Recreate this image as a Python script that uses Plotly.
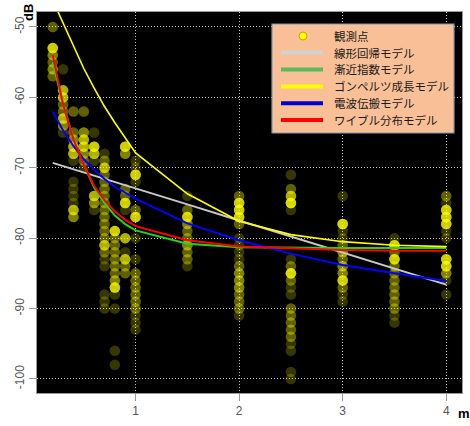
import plotly.graph_objects as go

# Distances of the measurement positions (m)
distance_m = [0.2, 0.3, 0.4, 0.5, 0.6, 0.7, 0.8, 0.9, 1.0, 1.5, 2.0, 2.5, 3.0, 3.5, 4.0]

# Received levels (dB) seen at each distance, and how many times each level was observed
levels_db = [
    [-50, -53, -54, -55, -56, -57],
    [-56, -59, -60, -61, -62, -63, -64, -65],
    [-62, -65, -66, -67, -68, -69, -72, -73, -74, -75, -76, -77],
    [-62, -65, -66, -67, -68, -69, -70],
    [-65, -67, -68, -69, -74, -75, -76],
    [-68, -69, -70, -71, -72, -73, -74, -75, -76, -77, -78, -79, -80, -81, -82, -83, -84, -88, -89, -90],
    [-79, -80, -81, -82, -83, -84, -85, -86, -87, -88, -90, -96, -98],
    [-67, -68, -73, -74, -75, -76, -80, -82, -83, -84, -85],
    [-69, -70, -71, -72, -76, -77, -80, -83, -85, -86, -87, -88, -89, -90, -91, -92, -93],
    [-74, -76, -77, -78, -79, -80, -81, -82, -83, -84],
    [-74, -75, -76, -77, -78, -80, -81, -82, -83, -84, -85, -86, -87, -88, -89, -90, -91],
    [-71, -73, -74, -75, -76, -83, -84, -85, -86, -87, -88, -90, -91, -92, -93, -94, -95, -96, -99, -100],
    [-74, -78, -79, -80, -81, -82, -83, -84, -85, -86, -87, -88, -89],
    [-80, -81, -82, -83, -84, -85, -86, -87, -88, -89, -90, -91, -92],
    [-74, -75, -76, -77, -78, -79, -80, -83, -84, -85, -86, -88],
]
counts = [
    [2, 7, 3, 2, 3, 2],
    [1, 5, 5, 2, 2, 5, 3, 1],
    [2, 2, 3, 5, 5, 1, 1, 1, 1, 1, 5, 3],
    [2, 3, 5, 5, 3, 2, 1],
    [1, 7, 5, 1, 5, 3, 1],
    [1, 2, 5, 2, 2, 2, 2, 2, 2, 2, 2, 2, 2, 5, 2, 1, 1, 1, 1, 1],
    [7, 2, 2, 2, 2, 2, 2, 3, 7, 1, 1, 1, 1],
    [7, 3, 2, 2, 7, 1, 5, 1, 5, 2, 2],
    [1, 1, 7, 1, 2, 7, 1, 1, 2, 2, 2, 2, 2, 2, 1, 1, 1],
    [1, 2, 7, 3, 2, 2, 3, 2, 2, 1],
    [2, 7, 7, 7, 2, 1, 1, 1, 1, 2, 3, 3, 3, 2, 2, 2, 1],
    [1, 2, 5, 8, 1, 1, 2, 8, 2, 1, 1, 2, 2, 2, 2, 2, 1, 1, 1, 1],
    [1, 8, 1, 1, 2, 3, 2, 3, 3, 7, 2, 1, 1],
    [1, 7, 2, 7, 2, 2, 2, 2, 2, 2, 2, 1, 1],
    [2, 1, 7, 7, 7, 1, 1, 7, 7, 3, 1, 1],
]

# Fitted model predictions (dB) at each distance
linear_fit = [-69.3, -69.75, -70.2, -70.65, -71.1, -71.55, -72.0, -72.45, -72.9,
              -75.2, -77.5, -79.8, -82.0, -84.3, -86.6]
asymptotic_fit = [-55.0, -61.0, -65.9, -69.6, -72.8, -75.0, -76.8, -78.0, -78.9,
                  -80.8, -81.3, -81.4, -81.4, -81.4, -81.4]
gompertz_fit = [-46.2, -49.5, -52.8, -55.9, -58.7, -61.3, -63.6, -65.8, -67.9,
                -73.7, -77.6, -79.5, -80.5, -81.0, -81.2]
propagation_fit = [-62.0, -64.7, -66.9, -68.8, -70.3, -71.6, -72.7, -73.6, -74.4,
                   -77.9, -80.3, -82.2, -83.8, -85.0, -86.1]
weibull_fit = [-54.0, -61.0, -66.0, -69.6, -72.6, -74.6, -76.2, -77.4, -78.3,
               -80.3, -81.2, -81.5, -81.7, -81.8, -81.8]

tick_x = [1, 2, 3, 4]
tick_y = [-100, -90, -80, -70, -60, -50]

model_names = ["線形回帰モデル", "漸近指数モデル", "ゴンペルツ成長モデル", "電波伝搬モデル", "ワイブル分布モデル"]
model_values = [linear_fit, asymptotic_fit, gompertz_fit, propagation_fit, weibull_fit]
model_colors = ["#c8c8c8", "#1fd61f", "#ffff00", "#0000ff", "#ff0000"]
legend_colors = ["#d2d2d2", "#5cb85c", "#ffff00", "#0000cc", "#ff0000"]
model_widths = [2, 2, 1.6, 2, 2]

# Expand the observation table into individual points
obs_x, obs_y = [], []
for d, levels, ns in zip(distance_m, levels_db, counts):
    for v, n in zip(levels, ns):
        obs_x += [d] * n
        obs_y += [v] * n

fig = go.Figure()
fig.add_trace(go.Scatter(
    x=obs_x, y=obs_y, mode="markers", name="観測点", showlegend=False,
    marker=dict(size=10.5, color="rgba(255,255,0,0.21)", line=dict(width=0)),
))
for name, vals, col, w in zip(model_names, model_values, model_colors, model_widths):
    fig.add_trace(go.Scatter(
        x=distance_m, y=vals, mode="lines", name=name, showlegend=False,
        line=dict(color=col, width=w),
    ))

# Plot area in pixels: left 37, right 462, top 12, bottom 393
L, R, T, B = 37, 462, 12, 393


def px(x):
    return (x - L) / (R - L)


def py(y):
    return (B - y) / (B - T)


shapes = []
annotations = []

# Legend box
lx0, lx1, ly0, ly1 = 272, 454, 24, 133
shapes.append(dict(type="rect", xref="paper", yref="paper",
                   x0=px(lx0), x1=px(lx1), y0=py(ly1), y1=py(ly0),
                   fillcolor="#f9c097", line=dict(color="#8394ab", width=1.2)))
row_y = [36, 52.6, 69.4, 86.4, 103.2, 120.0]
shapes.append(dict(type="circle", xref="paper", yref="paper",
                   x0=px(299), x1=px(307), y0=py(row_y[0] + 4), y1=py(row_y[0] - 4),
                   fillcolor="#ffff00", line=dict(color="#c9a800", width=1)))
for ry, col in zip(row_y[1:], legend_colors):
    shapes.append(dict(type="line", xref="paper", yref="paper",
                       x0=px(281), x1=px(323), y0=py(ry), y1=py(ry),
                       line=dict(color=col, width=4)))
for ry, txt in zip(row_y, ["観測点"] + model_names):
    annotations.append(dict(xref="paper", yref="paper", x=px(332), y=py(ry),
                            text=txt, showarrow=False, xanchor="left", yanchor="middle",
                            font=dict(family="Noto Sans CJK JP", size=11.5, color="#1a1a1a")))

# Axis titles
annotations.append(dict(xref="paper", yref="paper", x=px(29), y=py(13), text="<b>dB</b>",
                        textangle=-90, showarrow=False, xanchor="center", yanchor="middle",
                        font=dict(family="Liberation Sans", size=13, color="#000")))
annotations.append(dict(xref="paper", yref="paper", x=px(464), y=py(414), text="<b>m</b>",
                        showarrow=False, xanchor="center", yanchor="middle",
                        font=dict(family="Liberation Sans", size=13, color="#000")))

axis_common = dict(
    showgrid=True, gridcolor="#c4c4c4", gridwidth=1, griddash="1px,2px",
    zeroline=False, showline=True, linecolor="#9a9a9a", linewidth=1, mirror=True,
    ticks="outside", ticklen=7, tickcolor="#9a9a9a", tickwidth=1,
    tickfont=dict(family="Liberation Sans", size=12, color="#555555"),
)

fig.update_layout(
    width=470, height=426,
    margin=dict(l=L, r=470 - R, t=T, b=426 - B),
    paper_bgcolor="white", plot_bgcolor="black",
    showlegend=False,
    xaxis=dict(range=[0.048, 4.152], tickvals=tick_x, ticktext=[str(t) for t in tick_x],
               **axis_common),
    yaxis=dict(range=[-102.0, -47.87], tickvals=tick_y, ticktext=[str(t) for t in tick_y],
               tickangle=-90, **axis_common),
    shapes=shapes, annotations=annotations,
)

fig.write_html("out.html")
